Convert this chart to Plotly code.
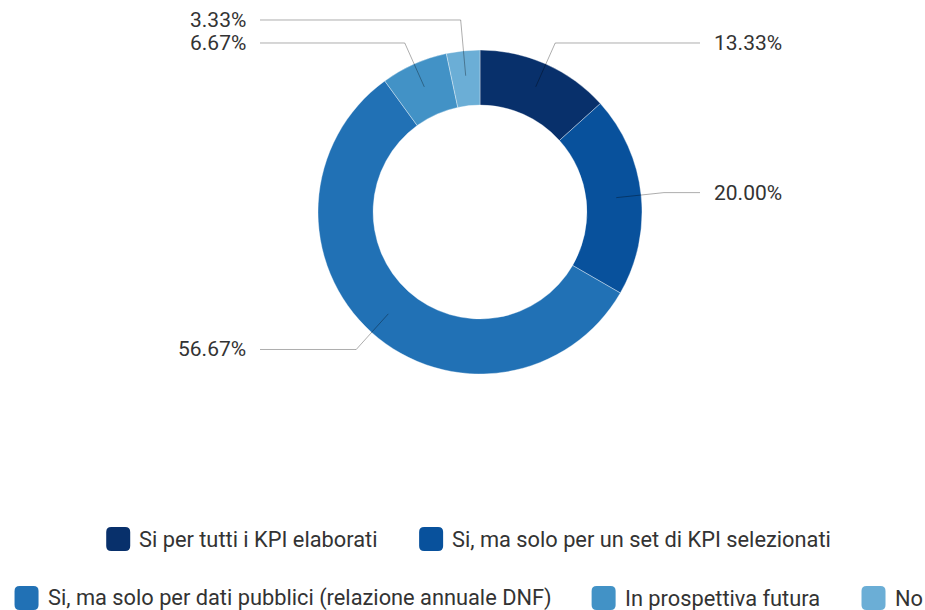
import math
import plotly.graph_objects as go

# ---------------- data ----------------
categories = [
    "Si per tutti i KPI elaborati",
    "Si, ma solo per un set di KPI selezionati",
    "Si, ma solo per dati pubblici (relazione annuale DNF)",
    "In prospettiva futura",
    "No",
]
values = [13.33, 20.00, 56.67, 6.67, 3.33]
colors = ["#08306b", "#08519c", "#2171b5", "#4292c6", "#6baed6"]
legend_rows = [[0, 1], [2, 3, 4]]

# ---------------- layout constants (px) ----------------
W, H = 925, 610
CX, CY, R = 480, 212, 162
HOLE = 0.66
R_START, R_ELBOW = 137, 185
LINE_END_DX = 220
LABEL_GAP = 12
MIN_SPACING = 23
LABEL_FONT = 21
LEGEND_FONT = 21.8
TEXT_COLOR = "#333333"
FONT = "Roboto"

def fx(px):
    return px / W

def fy(py):
    return 1 - py / H

# approximate Roboto advance widths (em)
CW = {' ': .248, ',': .192, '.': .257, '(': .334, ')': .340, '%': .733,
      'D': .656, 'F': .553, 'I': .280, 'K': .626, 'N': .712, 'P': .631, 'S': .594,
      'a': .544, 'b': .561, 'c': .523, 'd': .563, 'e': .529, 'f': .347, 'g': .561,
      'h': .551, 'i': .243, 'l': .243, 'm': .876, 'n': .552, 'o': .570, 'p': .561,
      'r': .338, 's': .516, 't': .327, 'u': .551, 'v': .484, 'z': .496}

def text_width(s, size):
    return sum(CW.get(ch, .56) for ch in s) * size

fig = go.Figure()
fig.add_trace(go.Pie(
    labels=categories, values=values, hole=HOLE, sort=False,
    direction="clockwise", rotation=0,
    marker=dict(colors=colors, line=dict(color="rgba(255,255,255,0.6)", width=0.6)),
    textinfo="none", hoverinfo="label+percent", showlegend=False,
    domain=dict(x=[fx(CX - R), fx(CX + R)], y=[fy(CY + R), fy(CY - R)]),
))

# ---------------- outside labels with leader lines ----------------
total = sum(values)
items = []
cum = 0.0
for i, v in enumerate(values):
    mid = (cum + v / 2) / total * 2 * math.pi
    cum += v
    sx, sy = CX + R_START * math.sin(mid), CY - R_START * math.cos(mid)
    ex, ey = CX + R_ELBOW * math.sin(mid), CY - R_ELBOW * math.cos(mid)
    side = 1 if math.sin(mid) >= 0 else -1
    items.append(dict(i=i, sx=sx, sy=sy, ex=ex, ey=ey, side=side))

# resolve overlaps per side (push upward)
for side in (1, -1):
    grp = sorted([it for it in items if it["side"] == side], key=lambda d: -d["ey"])
    for a, b in zip(grp, grp[1:]):
        if a["ey"] - b["ey"] < MIN_SPACING:
            b["ey"] = a["ey"] - MIN_SPACING

shapes = []
annotations = []
for it in items:
    end_x = CX + it["side"] * LINE_END_DX
    shapes.append(dict(
        type="path", xref="paper", yref="paper",
        path=f"M {fx(it['sx'])},{fy(it['sy'])} L {fx(it['ex'])},{fy(it['ey'])} L {fx(end_x)},{fy(it['ey'])}",
        line=dict(color="rgba(0,0,0,0.32)", width=1),
    ))
    annotations.append(dict(
        text=f"{values[it['i']]:.2f}%", showarrow=False,
        xref="paper", yref="paper",
        x=fx(end_x + it["side"] * LABEL_GAP), y=fy(it["ey"]),
        xanchor="left" if it["side"] > 0 else "right", yanchor="middle",
        font=dict(family=FONT, size=LABEL_FONT, color=TEXT_COLOR),
    ))

# ---------------- custom legend ----------------
SQ, RAD, SQ_GAP, ITEM_GAP = 24, 5, 7, 43
ROW_Y = [539, 598]
ROW_CENTER = 467.5

def rounded_rect(x, y, w, h, r):
    pts = [
        f"M {fx(x + r)},{fy(y)}",
        f"L {fx(x + w - r)},{fy(y)}",
        f"Q {fx(x + w)},{fy(y)} {fx(x + w)},{fy(y + r)}",
        f"L {fx(x + w)},{fy(y + h - r)}",
        f"Q {fx(x + w)},{fy(y + h)} {fx(x + w - r)},{fy(y + h)}",
        f"L {fx(x + r)},{fy(y + h)}",
        f"Q {fx(x)},{fy(y + h)} {fx(x)},{fy(y + h - r)}",
        f"L {fx(x)},{fy(y + r)}",
        f"Q {fx(x)},{fy(y)} {fx(x + r)},{fy(y)}",
        "Z",
    ]
    return " ".join(pts)

for row, yc in zip(legend_rows, ROW_Y):
    widths = [SQ + SQ_GAP + text_width(categories[k], LEGEND_FONT) for k in row]
    tot = sum(widths) + ITEM_GAP * (len(row) - 1)
    x = ROW_CENTER - tot / 2
    for k, wdt in zip(row, widths):
        shapes.append(dict(
            type="path", xref="paper", yref="paper",
            path=rounded_rect(x, yc - SQ / 2, SQ, SQ, RAD),
            fillcolor=colors[k], line=dict(width=0),
        ))
        annotations.append(dict(
            text=categories[k], showarrow=False, xref="paper", yref="paper",
            x=fx(x + SQ + SQ_GAP), y=fy(yc), xanchor="left", yanchor="middle",
            font=dict(family=FONT, size=LEGEND_FONT, color=TEXT_COLOR),
        ))
        x += wdt + ITEM_GAP

fig.update_layout(
    width=W, height=H, margin=dict(l=0, r=0, t=0, b=0),
    paper_bgcolor="white", plot_bgcolor="white",
    showlegend=False, shapes=shapes, annotations=annotations,
    font=dict(family=FONT, color=TEXT_COLOR),
)

fig.write_html(
    "out.html",
    config={"displayModeBar": False},
    post_script="document.body.style.margin='0px';document.body.style.overflow='hidden';",
)
